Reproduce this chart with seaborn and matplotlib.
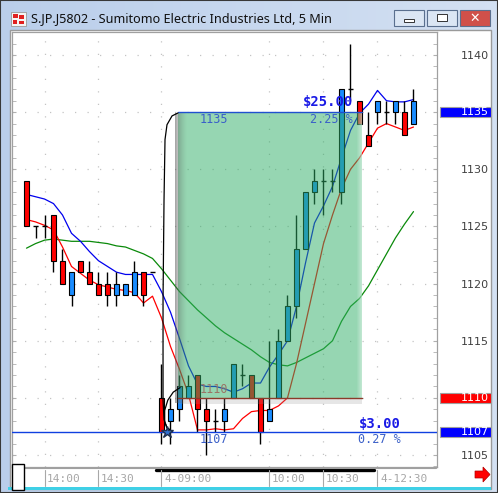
import numpy as np
import pandas as pd
import seaborn as sns
import matplotlib
matplotlib.use("Agg")
import matplotlib.pyplot as plt
from matplotlib.patches import Rectangle, Polygon
from matplotlib.lines import Line2D
import matplotlib.transforms as mtransforms

# ---------------- data: 5-minute bars ----------------
opens  = [1129, 1125, 1125, 1126, 1122, 1119, 1122, 1121, 1120, 1120, 1119, 1119, 1119, 1121, 1121,
          1110, 1108, 1109, 1110, 1112, 1109, 1108, 1108, 1110, 1112, 1112, 1110, 1108, 1110, 1115,
          1118, 1123, 1128, 1129, 1129, 1128, 1137, 1136, 1133, 1135, 1135, 1135, 1135, 1134]
highs  = [1129, 1125, 1126, 1126, 1123, 1121, 1122, 1122, 1121, 1121, 1121, 1120, 1122, 1121, 1121,
          1113, 1110, 1112, 1112, 1112, 1110, 1109, 1110, 1113, 1113, 1112, 1110, 1115, 1116, 1119,
          1126, 1128, 1130, 1130, 1130, 1137, 1141, 1136, 1135, 1136, 1136, 1136, 1136, 1137]
lows   = [1125, 1124, 1124, 1121, 1120, 1118, 1121, 1120, 1119, 1118, 1118, 1119, 1119, 1118, 1121,
          1106, 1106, 1108, 1110, 1107, 1105, 1107, 1107, 1110, 1111, 1110, 1106, 1108, 1110, 1115,
          1117, 1123, 1127, 1126, 1128, 1127, 1136, 1134, 1132, 1134, 1134, 1134, 1133, 1134]
closes = [1125, 1125, 1125, 1122, 1120, 1121, 1121, 1120, 1119, 1119, 1120, 1120, 1121, 1119, 1121,
          1107, 1109, 1111, 1111, 1109, 1108, 1108, 1109, 1113, 1112, 1110, 1107, 1109, 1115, 1118,
          1123, 1128, 1129, 1129, 1129, 1137, 1137, 1134, 1132, 1136, 1135, 1136, 1133, 1136]

# moving-average overlays
ma_blue  = [1127.8, 1127.6, 1127.4, 1127.0, 1126.0, 1124.4, 1123.7, 1122.8, 1122.0, 1121.5, 1121.0,
            1120.8, 1120.8, 1120.8, 1120.8, 1119.3, 1117.5, 1115.2, 1112.8, 1111.2, 1111.0, 1111.0,
            1110.8, 1110.5, 1110.8, 1111.3, 1111.3, 1112.7, 1113.8, 1115.0, 1118.0, 1121.8, 1125.3,
            1126.8, 1128.5, 1131.0, 1133.4, 1134.9, 1135.7, 1136.9, 1136.0, 1135.9, 1135.9, 1136.1]
ma_red   = [1125.6, 1125.4, 1125.1, 1124.7, 1123.2, 1121.5, 1120.9, 1120.3, 1119.9, 1119.7, 1119.5,
            1119.4, 1119.2, 1118.3, 1118.9, 1117.0, 1114.5, 1112.5, 1110.3, 1107.2, 1107.2, 1107.3,
            1107.2, 1107.3, 1108.2, 1108.8, 1108.9, 1108.9, 1109.3, 1110.0, 1113.0, 1116.5, 1120.0,
            1123.5, 1126.0, 1128.3, 1130.0, 1131.0, 1132.3, 1133.6, 1134.0, 1133.7, 1133.4, 1133.7]
ma_green = [1123.1, 1123.5, 1123.8, 1123.9, 1123.8, 1123.7, 1123.7, 1123.7, 1123.6, 1123.5, 1123.3,
            1123.2, 1122.9, 1122.6, 1122.2, 1121.3, 1120.3, 1119.3, 1118.5, 1117.7, 1117.0, 1116.3,
            1115.7, 1115.2, 1114.7, 1114.2, 1113.6, 1113.1, 1112.9, 1112.8, 1113.1, 1113.5, 1113.9,
            1114.3, 1115.0, 1116.7, 1118.0, 1118.7, 1119.8, 1121.2, 1122.6, 1124.0, 1125.2, 1126.3]

time_ticks  = [2, 8, 15, 27, 33, 39]
time_labels = ["14:00", "14:30", "4-09:00", "10:00", "10:30", "4-12:30"]
price_ticks = [1105, 1110, 1115, 1120, 1125, 1130, 1135, 1140]

# trade drawing
entry_price, stop_price, target_price = 1107, 1110, 1135
trade_start, trade_end = 16.8, 37.3
gain_text, gain_pct = "$25.00", "2.25 %"
risk_text, risk_pct = "$3.00", "0.27 %"

df = pd.DataFrame({"bar": np.arange(len(opens)), "open": opens, "high": highs,
                   "low": lows, "close": closes,
                   "blue": ma_blue, "red": ma_red, "green": ma_green})

# ---------------- figure / window ----------------
sns.set_style("white")
plt.rcParams["font.family"] = ["DejaVu Sans"]
W, H = 498, 493
fig = plt.figure(figsize=(W / 100, H / 100), dpi=100)
fig.patch.set_facecolor("#bfd3ec")


def fr(x0, y0, x1, y1):
    """pixel box -> figure-fraction rectangle args"""
    return (x0 / W, 1 - y1 / H), (x1 - x0) / W, (y1 - y0) / H


def frect(x0, y0, x1, y1, z=1, **kw):
    xy, w, h = fr(x0, y0, x1, y1)
    r = Rectangle(xy, w, h, transform=fig.transFigure, zorder=z, **kw)
    fig.patches.append(r)
    return r


# window chrome (behind the chart pane)
bg = fig.add_axes([0, 0, 1, 1], zorder=-10)
bg.axis("off")
grad = np.linspace(0, 1, 256)[None, :]
bg.imshow(np.dstack([0.73 + 0.1 * grad, 0.81 + 0.07 * grad, 0.92 + 0.03 * grad]),
          extent=[0, 1, 0, 1], aspect="auto")
bg.add_patch(Rectangle((10 / W, 1 - 489 / H), 481 / W, 459 / H, transform=bg.transAxes,
                       facecolor="white", edgecolor="#9a9a9a", lw=1.0))
bg.add_patch(Rectangle((8 / W, 1 - 490 / H), 483 / W, 3 / H, transform=bg.transAxes,
                       facecolor="#3fd0e6", edgecolor="none"))
bg.add_patch(Rectangle((0, 0), 1, 1, transform=bg.transAxes, facecolor="none",
                       edgecolor="#383838", lw=1.5))

# window icon
frect(11, 12, 26, 26, facecolor="#f4f4f4", edgecolor="#9a9a9a", lw=0.6)
for (a, b, c, d) in [(13, 14, 18, 18), (19, 15, 24, 19), (13, 20, 17, 24), (19, 21, 24, 24)]:
    frect(a, b, c, d, facecolor="#e02020", edgecolor="none")
fig.text(31 / W, 1 - 19 / H, "S.JP.J5802 - Sumitomo Electric Industries Ltd, 5 Min",
         fontsize=9.1, family="Noto Sans", color="#101010", va="center", ha="left")

# caption buttons
for (x0, x1, fc) in [(394, 424, "#dbe6f4"), (427, 457, "#dbe6f4"), (460, 490, "#d0504a")]:
    frect(x0, 10, x1, 26, facecolor=fc, edgecolor="#5a6f8e", lw=0.8)
frect(404, 19, 414, 22, facecolor="white", edgecolor="#333333", lw=0.7)
frect(437, 14, 447, 21, facecolor="white", edgecolor="#333333", lw=0.7)
fig.text(475 / W, 1 - 18.5 / H, "✕", fontsize=9, weight="bold", color="white",
         ha="center", va="center")

# ---------------- price pane ----------------
PL, PT, PR, PB = 12, 32, 437, 467
(axx, axy), aw, ah = fr(PL, PT, PR, PB)
ax = fig.add_axes([axx, axy, aw, ah])
ax.set_facecolor("white")
x_lo, x_hi = (PL - 26.5) / 9.0, (PR - 26.5) / 9.0
y_hi, y_lo = 1140 + (55 - PT) / 11.43, 1140 - (PB - 55) / 11.43
ax.set_xlim(x_lo, x_hi)
ax.set_ylim(y_lo, y_hi)

# dotted grid
for p in price_ticks:
    ax.axhline(p, color="#c4c4c4", lw=0.9, ls=(0, (1, 9)), zorder=0)
for tk in time_ticks:
    ax.axvline(tk, color="#c4c4c4", lw=0.9, ls=(0, (1, 9)), zorder=0)

# moving averages
sns.lineplot(data=df, x="bar", y="green", color="#0a8a0a", lw=0.9, ax=ax, zorder=2)
sns.lineplot(data=df, x="bar", y="blue", color="#0000ee", lw=0.9, ax=ax, zorder=2)
sns.lineplot(data=df, x="bar", y="red", color="#ff0000", lw=0.9, ax=ax, zorder=2)

# candlesticks
bw = 0.5
ax.vlines(df["bar"], df["low"], df["high"], color="black", lw=1.0, zorder=3)
up = df[df["close"] > df["open"]]
dn = df[df["close"] < df["open"]]
fl = df[df["close"] == df["open"]]
ax.bar(up["bar"], up["close"] - up["open"], bottom=up["open"], width=bw,
       color="#1a8cff", edgecolor="black", lw=0.8, zorder=4)
ax.bar(dn["bar"], dn["open"] - dn["close"], bottom=dn["close"], width=bw,
       color="#ff0000", edgecolor="black", lw=0.8, zorder=4)
ax.hlines(fl["open"], fl["bar"] - bw / 2, fl["bar"] + bw / 2, color="black", lw=1.0, zorder=4)

# entry line
ax.axhline(entry_price, color="#1040e0", lw=1.0, zorder=5)

# position box (target zone) with shading
ax.add_patch(Rectangle((trade_start, stop_price), trade_end - trade_start,
                       target_price - stop_price, facecolor="#2fae66", alpha=0.5,
                       edgecolor="none", zorder=6))
px = 1 / 9.0  # one screen pixel in bar units
for k in range(12):
    a = 0.5 * (1 - k / 12) ** 1.5
    ax.add_patch(Rectangle((trade_start - 3 * px + k * px, stop_price - 0.45), px,
                           target_price - stop_price + 0.35,
                           facecolor="#505050", alpha=a, edgecolor="none", zorder=6))
for k in range(5):
    ax.add_patch(Rectangle((trade_end - 5 * px + k * px, stop_price), px,
                           target_price - stop_price,
                           facecolor="white", alpha=0.08 * (k + 1), edgecolor="none", zorder=6))
ax.add_patch(Rectangle((trade_start, stop_price - 0.55), trade_end - trade_start, 0.55,
                       facecolor="#909090", alpha=0.22, edgecolor="none", zorder=6))
ax.plot([trade_start, trade_end], [target_price, target_price], color="#2050d0", lw=1.0, zorder=7)
ax.plot([trade_start, trade_end], [stop_price, stop_price], color="#8b3a2a", lw=1.0, zorder=7)

# bracket curves linking the entry to the target and stop corners
bx1 = [16.83, 16.17, 15.61, 15.39, 15.28, 15.17, 15.17, 15.28, 15.61, 16.17]
by1 = [1134.93, 1134.67, 1133.9, 1132.6, 1127.3, 1118.6, 1109.8, 1108.1, 1107.4, 1107.05]
bx2 = [17.06, 16.3, 15.7, 15.35, 15.35, 15.6, 16.2]
by2 = [1110.9, 1110.5, 1109.8, 1108.9, 1107.9, 1107.4, 1107.05]
ax.plot(bx1, by1, color="black", lw=0.9, zorder=7)
ax.plot(bx2, by2, color="black", lw=0.9, zorder=7)
ax.plot([15.6], [entry_price], marker="*", ms=9, color="#3070d0",
        mec="#203050", zorder=8)

txt_kw = dict(family="DejaVu Sans Mono", zorder=9)
ax.text(trade_start + 2.45, target_price - 0.6, "1135", color="#3a5fc8", fontsize=8.5,
        ha="left", va="center", **txt_kw)
ax.text(trade_end - 1.0, target_price - 0.6, gain_pct, color="#3a5fc8", fontsize=8.5,
        ha="right", va="center", **txt_kw)
ax.text(trade_end - 1.0, target_price + 0.85, gain_text, color="#1a1ae6", fontsize=10,
        weight="bold", ha="right", va="center", **txt_kw)
ax.text(trade_start + 2.45, stop_price + 0.7, "1110", color="#9a7566", fontsize=8.5,
        ha="left", va="center", **txt_kw)
ax.text(trade_start + 2.45, entry_price - 0.65, "1107", color="#3a5fc8", fontsize=8.5,
        ha="left", va="center", **txt_kw)
ax.text(trade_end + 4.3, entry_price - 0.65, risk_pct, color="#3a5fc8", fontsize=8.5,
        ha="right", va="center", **txt_kw)
ax.text(trade_end + 4.3, entry_price + 0.75, risk_text, color="#1a1ae6", fontsize=10,
        weight="bold", ha="right", va="center", **txt_kw)

# axes frame and ticks
for s in ax.spines.values():
    s.set_color("#a0a0a0")
    s.set_linewidth(0.9)
ax.set_xlabel("")
ax.set_ylabel("")
ax.set_xticks([])
ax.yaxis.tick_right()
ax.set_yticks(price_ticks)
ax.set_yticks(np.arange(1104, 1143), minor=True)
ax.tick_params(axis="y", which="both", direction="in", length=3, color="#b0b0b0",
               left=True, right=True, labelleft=False, labelright=True,
               labelsize=8, labelcolor="#404040", pad=37.5)
for lab in ax.get_yticklabels():
    lab.set_horizontalalignment("right")

# last-value flags on the price scale
tr = mtransforms.blended_transform_factory(fig.transFigure, ax.transData)
for price, fc in [(target_price, "#0000ff"), (stop_price, "#ff0000"), (entry_price, "#0000ff")]:
    ax.add_patch(Rectangle((439.5 / W, price - 0.42), 51 / W, 0.84, transform=tr,
                           facecolor=fc, edgecolor="#a0a0a0", lw=0.8, clip_on=False, zorder=10))
    ax.text(488.5 / W, price, str(price), transform=tr, color="white", fontsize=8,
            ha="right", va="center", clip_on=False, zorder=11)

# ---------------- time scale ----------------
txa = mtransforms.blended_transform_factory(ax.transData, fig.transFigure)
fig.add_artist(Line2D([23 / W, 436 / W], [1 - 468 / H] * 2, color="#a0a0a0", lw=0.8))
ax.add_artist(Line2D([(156 - 26.5) / 9, (374 - 26.5) / 9], [1 - 469.5 / H] * 2, transform=txa,
                     color="black", lw=2.4, clip_on=False))
for tk, lbl in zip(time_ticks, time_labels):
    ax.add_artist(Line2D([tk, tk], [1 - 470 / H, 1 - 486 / H], transform=txa,
                         color="#a8a8a8", lw=0.8, clip_on=False))
    ax.text(tk + 0.3, 1 - 478.5 / H, lbl, transform=txa, color="#a6a6a6", fontsize=8,
            family="DejaVu Sans Mono", ha="left", va="center", clip_on=False)
frect(12, 464, 24, 490, z=5, facecolor="white", edgecolor="black", lw=1.0)
arrow = Polygon([(475 / W, 1 - 471 / H), (483 / W, 1 - 471 / H), (483 / W, 1 - 467 / H),
                 (490 / W, 1 - 474.5 / H), (483 / W, 1 - 482 / H), (483 / W, 1 - 478 / H),
                 (475 / W, 1 - 478 / H)], closed=True, transform=fig.transFigure,
                facecolor="#ff0000", edgecolor="#b00000", lw=0.5)
fig.patches.append(arrow)

fig.savefig("out.png", dpi=100)
